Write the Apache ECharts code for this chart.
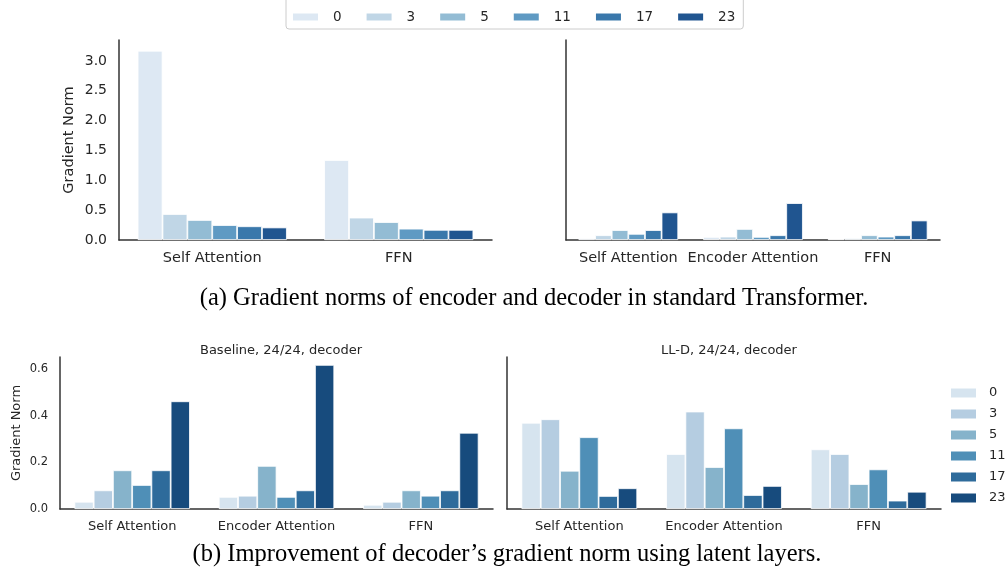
<!DOCTYPE html>
<html>
<head>
<meta charset="utf-8">
<script src="https://cdn.jsdelivr.net/npm/echarts@6/dist/echarts.min.js"></script>
<style>
  html, body { margin: 0; padding: 0; background: #ffffff; }
  #chart { width: 1005px; height: 570px; }
</style>
</head>
<body>
<div id="chart"></div>
<script>
// layers shown in the legend
const layers = ['0', '3', '5', '11', '17', '23']
const encCategories = ['Self Attention', 'FFN']
const decCategories = ['Self Attention', 'Encoder Attention', 'FFN']

// (a) standard Transformer, encoder: one row per layer -> [Self Attention, FFN]
const encoderNorm = [
  [3.17, 1.34],
  [0.435, 0.375],
  [0.335, 0.30],
  [0.25, 0.19],
  [0.23, 0.17],
  [0.21, 0.17]
]
// baseline decoder (used in (a) right and (b) left): [Self Attn, Encoder Attn, FFN]
const baselineNorm = [
  [0.031, 0.052, 0.018],
  [0.08, 0.057, 0.031],
  [0.166, 0.185, 0.08],
  [0.103, 0.052, 0.057],
  [0.166, 0.08, 0.08],
  [0.462, 0.618, 0.327]
]
// LL-D decoder
const lldNorm = [
  [0.37, 0.236, 0.256],
  [0.385, 0.418, 0.236],
  [0.164, 0.18, 0.107],
  [0.308, 0.346, 0.17],
  [0.056, 0.06, 0.036],
  [0.089, 0.099, 0.074]
]
const topTicks = ['0.0', '0.5', '1.0', '1.5', '2.0', '2.5', '3.0']
const bottomTicks = ['0.0', '0.2', '0.4', '0.6']

const topColors = ['#dde8f3', '#c0d6e6', '#93bcd4', '#5f9ac3', '#3a78ab', '#205590']
const bottomColors = ['#d6e4ef', '#b5cde1', '#86b3cb', '#4f8fb7', '#2e6b9b', '#174b7d']

const textColor = '#262626'
const axisColor = '#333333'
const sansFont = 'DejaVu Sans'

const chart = echarts.init(document.getElementById('chart'))

// x axis for a panel
function makeXAxis (gridIndex, cats, size) {
  return {
    type: 'category',
    gridIndex: gridIndex,
    data: cats,
    axisLine: { lineStyle: { color: axisColor, width: 1.5 } },
    axisTick: { show: false },
    axisLabel: { interval: 0, color: textColor, fontSize: size, fontFamily: sansFont, margin: 11 },
    splitLine: { show: false }
  }
}

function makeYAxis (gridIndex, max, interval, ticks, showLabels, size, nameSize, name, nameGap) {
  return {
    type: 'value',
    gridIndex: gridIndex,
    min: 0,
    max: max,
    interval: interval,
    name: name,
    nameLocation: 'middle',
    nameGap: nameGap,
    nameTextStyle: { color: textColor, fontSize: nameSize, fontFamily: sansFont },
    axisLine: { show: true, lineStyle: { color: axisColor, width: 1.5 } },
    axisTick: { show: false },
    axisLabel: {
      show: showLabels,
      showMaxLabel: false,
      color: textColor,
      fontSize: size,
      fontFamily: sansFont,
      margin: 12,
      formatter: function (v) {
        const i = Math.round(v / interval)
        return ticks[i] !== undefined ? ticks[i] : ''
      }
    },
    splitLine: { show: false }
  }
}

const series = []
function addPanel (gridIndex, values, colors) {
  layers.forEach(function (layer, i) {
    series.push({
      name: layer,
      type: 'bar',
      xAxisIndex: gridIndex,
      yAxisIndex: gridIndex,
      data: values[i],
      barGap: '0%',
      barCategoryGap: '20%',
      itemStyle: { color: colors[i], borderColor: '#ffffff', borderWidth: 0.8 },
      emphasis: { disabled: true }
    })
  })
}
addPanel(0, encoderNorm, topColors)
addPanel(1, baselineNorm, topColors)
addPanel(2, baselineNorm, bottomColors)
addPanel(3, lldNorm, bottomColors)

const option = {
  animation: false,
  backgroundColor: '#ffffff',
  title: [
    {
      text: 'Baseline, 24/24, decoder',
      left: 276, top: 339, textAlign: 'center',
      textStyle: { color: textColor, fontSize: 13, fontWeight: 'normal', fontFamily: sansFont }
    },
    {
      text: 'LL-D, 24/24, decoder',
      left: 724, top: 339, textAlign: 'center',
      textStyle: { color: textColor, fontSize: 13, fontWeight: 'normal', fontFamily: sansFont }
    },
    {
      text: '(a) Gradient norms of encoder and decoder in standard Transformer.',
      left: 529, top: 281, textAlign: 'center',
      textStyle: { color: '#000000', fontSize: 24.5, fontWeight: 'normal', fontFamily: 'Liberation Serif' }
    },
    {
      text: '(b) Improvement of decoder\u2019s gradient norm using latent layers.',
      left: 502, top: 537, textAlign: 'center',
      textStyle: { color: '#000000', fontSize: 24.5, fontWeight: 'normal', fontFamily: 'Liberation Serif' }
    }
  ],
  legend: [
    {
      orient: 'horizontal',
      left: 286,
      top: -6,
      padding: [16, 8, 5, 7],
      borderColor: '#cccccc',
      borderWidth: 1,
      borderRadius: 3,
      itemWidth: 25,
      itemHeight: 7,
      itemGap: 25,
      icon: 'rect',
      selectedMode: false,
      textStyle: { color: textColor, fontSize: 13.5, fontFamily: sansFont, padding: [0, 0, 0, 10] },
      data: layers.map(function (l, i) {
        return { name: l, itemStyle: { color: topColors[i], borderWidth: 0 } }
      })
    },
    {
      orient: 'vertical',
      left: 951,
      top: 386,
      padding: 0,
      itemWidth: 25,
      itemHeight: 9,
      itemGap: 7,
      icon: 'rect',
      selectedMode: false,
      textStyle: { color: textColor, fontSize: 13, fontFamily: sansFont, lineHeight: 14, padding: [0, 0, 0, 8] },
      data: layers.map(function (l, i) {
        return { name: l, itemStyle: { color: bottomColors[i], borderWidth: 0 } }
      })
    }
  ],
  grid: [
    { left: 119, right: 513, top: 40, bottom: 330 },
    { left: 566, right: 65, top: 40, bottom: 330 },
    { left: 60, right: 512, top: 357, bottom: 61 },
    { left: 507, right: 64, top: 357, bottom: 61 }
  ],
  xAxis: [
    makeXAxis(0, encCategories, 14.5),
    makeXAxis(1, decCategories, 14.5),
    makeXAxis(2, decCategories, 13),
    makeXAxis(3, decCategories, 13)
  ],
  yAxis: [
    makeYAxis(0, 3.35, 0.5, topTicks, true, 14, 14.5, 'Gradient Norm', 42),
    makeYAxis(1, 3.35, 0.5, topTicks, false, 14, 14.5, '', 0),
    makeYAxis(2, 0.652, 0.2, bottomTicks, true, 11.5, 13, 'Gradient Norm', 37),
    makeYAxis(3, 0.652, 0.2, bottomTicks, false, 11.5, 13, '', 0)
  ],
  series: series
}
chart.setOption(option)
</script>
</body>
</html>
